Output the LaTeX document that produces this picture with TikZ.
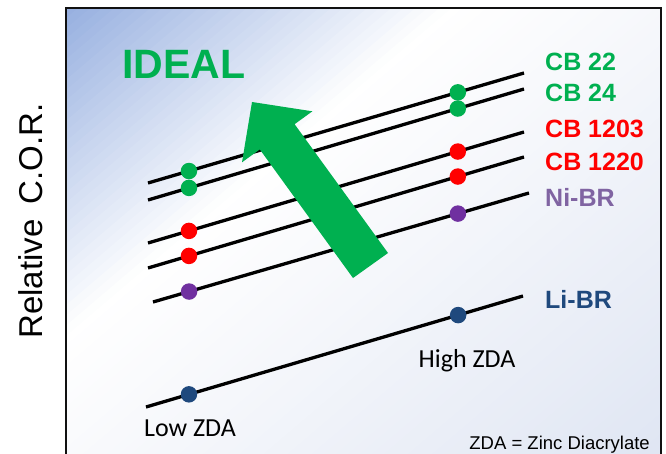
\documentclass[tikz,border=0pt]{standalone}
\usepackage{fontspec}
\setmainfont{Liberation Sans}
\newfontfamily\calfont{Carlito}
\usetikzlibrary{calc}
\definecolor{cbgreen}{HTML}{00B050}
\definecolor{cbred}{HTML}{FF0000}
\definecolor{nidot}{HTML}{7030A0}
\definecolor{nitext}{HTML}{8064A2}
\definecolor{libr}{HTML}{1F497D}
\definecolor{bgtl}{HTML}{96AFE0}
\definecolor{bgbr}{HTML}{E0E6F3}
\definecolor{framecol}{HTML}{111111}
\begin{document}
\begin{tikzpicture}[x=1pt,y=-1pt,
  dataline/.style={line width=3.3pt, black},
  dot/.style={circle, inner sep=0pt, minimum size=16.5pt, draw=none},
  curvelabel/.style={anchor=base west, inner sep=0pt, font=\fontsize{25}{30}\selectfont\bfseries},
  zdalabel/.style={anchor=base, inner sep=0pt, font=\calfont\fontsize{26}{30}\selectfont}]
\useasboundingbox (0,0) rectangle (666,454);
\clip (0,0) rectangle (666,454);
\fill[white] (0,0) rectangle (666,454);
% plot area with diagonal gradient drawn as thin bands
\begin{scope}
\clip (66,8) rectangle (661,470);
\foreach \i in {0,...,95}{
  \pgfmathsetmacro{\da}{\i*7.8}
  \pgfmathsetmacro{\db}{\da+8.6}
  \pgfmathsetmacro{\dm}{\da+3.9}
  \pgfmathsetmacro{\pa}{min(100,\dm/2.5)}
  \pgfmathsetmacro{\pb}{max(0,min(100,(\dm-250)/4.7))}
  \colorlet{bandA}{white!\pa!bgtl}
  \colorlet{bandB}{bgbr!\pb!bandA}
  \fill[bandB] ({66+\da*0.648+800*0.762},{8+\da*0.762-800*0.648})
    -- ({66+\db*0.648+800*0.762},{8+\db*0.762-800*0.648})
    -- ({66+\db*0.648-800*0.762},{8+\db*0.762+800*0.648})
    -- ({66+\da*0.648-800*0.762},{8+\da*0.762+800*0.648}) -- cycle;
}
\end{scope}
\draw[line width=2.6pt, framecol] (66,480) -- (66,8) -- (661,8) -- (661,480);

% curve end points
\coordinate (l1a) at (148,183); \coordinate (l1b) at (524,73);
\coordinate (l2a) at (148,200); \coordinate (l2b) at (524,89);
\coordinate (l3a) at (148,243); \coordinate (l3b) at (524,132);
\coordinate (l4a) at (148,268); \coordinate (l4b) at (524,157);
\coordinate (l5a) at (153,302); \coordinate (l5b) at (529,193);
\coordinate (l6a) at (146,407); \coordinate (l6b) at (523,296);

\draw[dataline] (l1a) -- node[dot, fill=cbgreen, pos=0.109] (d1a) {} node[dot, fill=cbgreen, pos=0.824] (d1b) {} (l1b);
\draw[dataline] (l2a) -- node[dot, fill=cbgreen, pos=0.109] (d2a) {} node[dot, fill=cbgreen, pos=0.824] (d2b) {} (l2b);
\draw[dataline] (l3a) -- node[dot, fill=cbred, pos=0.109] (d3a) {} node[dot, fill=cbred, pos=0.824] (d3b) {} (l3b);
\draw[dataline] (l4a) -- node[dot, fill=cbred, pos=0.109] (d4a) {} node[dot, fill=cbred, pos=0.824] (d4b) {} (l4b);
\draw[dataline] (l5a) -- node[dot, fill=nidot, pos=0.096] (d5a) {} node[dot, fill=nidot, pos=0.811] (d5b) {} (l5b);
\draw[dataline] (l6a) -- node[dot, fill=libr, pos=0.114] (d6a) {} node[dot, fill=libr, pos=0.828] (d6b) {} (l6b);

% big arrow
\fill[cbgreen] (353,278) -- (388,253) -- (294.6,124.2) -- (312.4,111.3) -- (252,102)
  -- (242,162.3) -- (259.8,149.4) -- cycle;

% texts
\node[anchor=base west, inner sep=0pt, text=cbgreen, font=\fontsize{41}{46}\selectfont\bfseries] (ideal) at (122,79) {IDEAL};
\node[curvelabel, text=cbgreen] (t1) at (545,71) {CB 22};
\node[curvelabel, text=cbgreen] (t2) at (545,102) {CB 24};
\node[curvelabel, text=cbred] (t3) at (545,138) {CB 1203};
\node[curvelabel, text=cbred] (t4) at (545,171) {CB 1220};
\node[curvelabel, text=nitext] (t5) at (545,207) {Ni-BR};
\node[curvelabel, text=libr] (t6) at (545,308) {Li-BR};
\node[zdalabel] (high) at (467,367) {High ZDA};
\node[zdalabel] (low) at (190,436) {Low ZDA};
\node[anchor=base east, inner sep=0pt, font=\fontsize{18.5}{22}\selectfont] (zda) at (650,449) {ZDA = Zinc Diacrylate};
\node[anchor=base, inner sep=0pt, rotate=90, font=\fontsize{33}{38}\selectfont] (ylab) at (42,221) {Relative\hspace{15pt}C.O.R.};
\end{tikzpicture}
\end{document}
